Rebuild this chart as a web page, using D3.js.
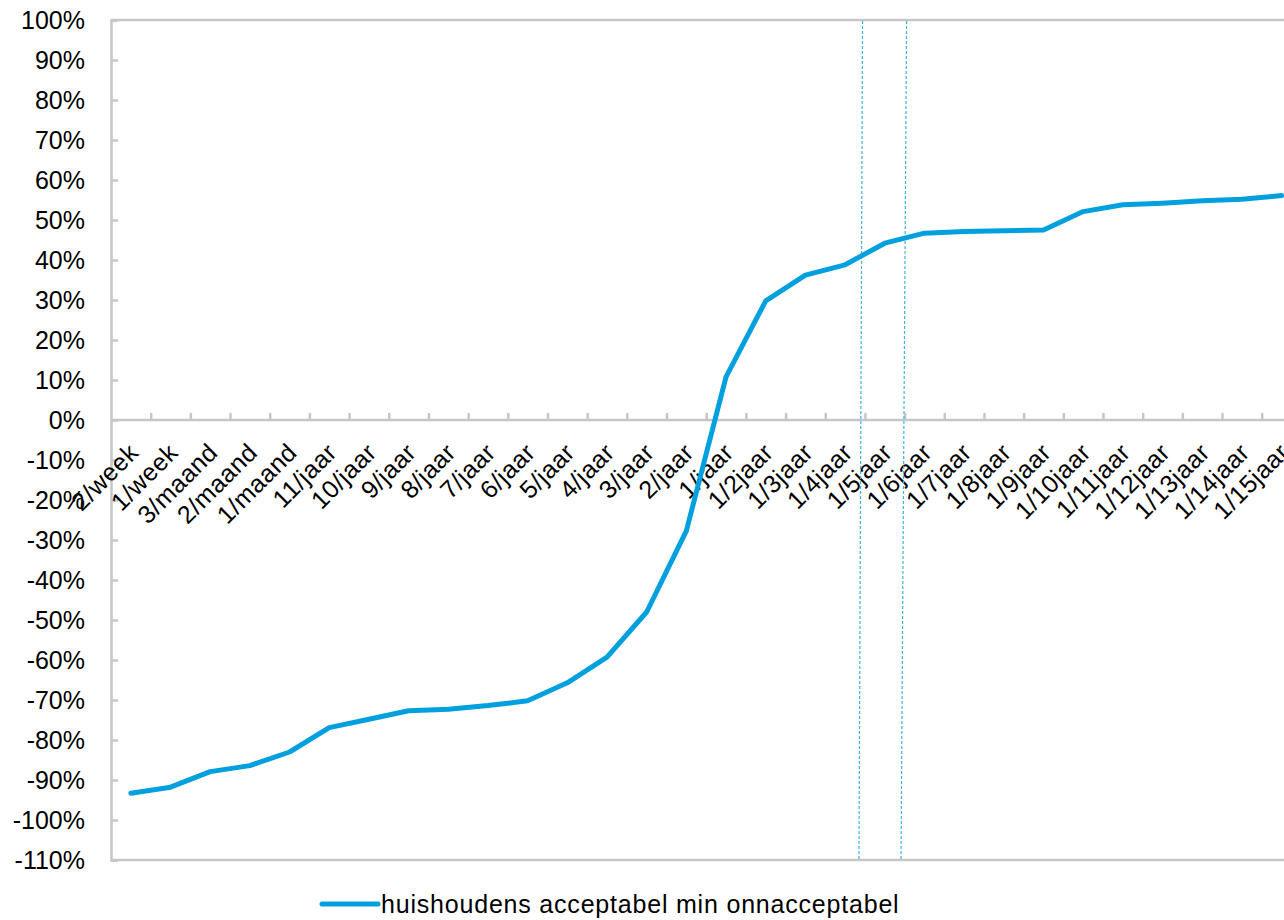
<!DOCTYPE html>
<html>
<head>
<meta charset="utf-8">
<script src="https://cdn.jsdelivr.net/npm/d3@7"></script>
<style>
  body { margin: 0; background: #fff; }
  svg { display: block; }
  text { font-family: "Liberation Sans", Arial, sans-serif; fill: #000; }
</style>
</head>
<body>
<svg id="chart" width="1284" height="920"></svg>
<script>
// Frequency categories along the horizontal axis
const categories = [
  "2/week", "1/week", "3/maand", "2/maand", "1/maand",
  "11/jaar", "10/jaar", "9/jaar", "8/jaar", "7/jaar", "6/jaar",
  "5/jaar", "4/jaar", "3/jaar", "2/jaar", "1/jaar",
  "1/2jaar", "1/3jaar", "1/4jaar", "1/5jaar", "1/6jaar", "1/7jaar",
  "1/8jaar", "1/9jaar", "1/10jaar", "1/11jaar", "1/12jaar",
  "1/13jaar", "1/14jaar", "1/15jaar"
];

// Share of households: acceptable minus unacceptable (%)
const values = [
  -93.3, -91.8, -87.9, -86.4, -83.0,
  -76.9, -74.8, -72.7, -72.3, -71.4, -70.2,
  -65.7, -59.3, -48.0, -27.7, 10.8,
  29.8, 36.2, 38.8, 44.2, 46.7, 47.1,
  47.3, 47.5, 52.1, 53.8, 54.2,
  54.8, 55.2, 56.1
];

const seriesName = "huishoudens acceptabel min onnacceptabel";

// Vertical tick values (%)
const yTicks = d3.range(-110, 101, 10);

// Dashed reference markers, as positions on the category axis (top and bottom end)
const markerTop = [18.94, 20.05];
const markerBottom = [18.85, 19.91];

const svg = d3.select("#chart");
const plotLeft = 111, plotRight = 1301.4, plotTop = 20, plotBottom = 860;
const axisGrey = "#c6c6c6";
const lineBlue = "#00a0df";
const fontSize = 25;

const x = d3.scaleBand().domain(categories).range([plotLeft, plotRight]).padding(0);
const pos = d3.scaleLinear().domain([0, categories.length]).range([plotLeft, plotRight]);
const y = d3.scaleLinear().domain([-110, 100]).range([plotBottom, plotTop]);
const cx = c => x(c) + x.bandwidth() / 2;

// top and bottom frame lines
svg.append("g").selectAll("line")
  .data([100, -110])
  .join("line")
  .attr("x1", plotLeft).attr("x2", plotRight)
  .attr("y1", d => y(d)).attr("y2", d => y(d))
  .attr("stroke", axisGrey).attr("stroke-width", 2.5);

// vertical axis with inward ticks
const yAxis = svg.append("g")
  .attr("transform", `translate(${plotLeft},0)`)
  .call(d3.axisLeft(y).tickValues(yTicks).tickSize(-7).tickPadding(26)
    .tickFormat(d => d + "%"));
yAxis.select(".domain").attr("stroke", axisGrey).attr("stroke-width", 2.5);
yAxis.selectAll(".tick line").attr("stroke", axisGrey).attr("stroke-width", 2.5);
yAxis.selectAll(".tick text")
  .attr("font-size", fontSize)
  .attr("font-family", "Liberation Sans, Arial, sans-serif")
  .attr("fill", "#000");

// horizontal axis at 0 with upward ticks at category boundaries
const xAxis = svg.append("g")
  .attr("transform", `translate(0,${y(0)})`)
  .call(d3.axisTop(pos).tickValues(d3.range(1, categories.length)).tickSize(7)
    .tickFormat(""));
xAxis.select(".domain").attr("stroke", axisGrey).attr("stroke-width", 2.5)
  .attr("d", `M${plotLeft},0H${plotRight}`);
xAxis.selectAll(".tick line").attr("stroke", axisGrey).attr("stroke-width", 2.5);

// rotated category labels
svg.append("g").selectAll("text")
  .data(categories)
  .join("text")
  .attr("transform", d => `translate(${cx(d) + 9},${y(0) + 34}) rotate(-45)`)
  .attr("text-anchor", "end")
  .attr("font-size", fontSize)
  .attr("letter-spacing", 0.5)
  .text(d => d);

// dashed reference markers
svg.append("g").selectAll("line")
  .data(markerTop.map((t, i) => [t, markerBottom[i]]))
  .join("line")
  .attr("x1", d => pos(d[0])).attr("y1", y(100) + 1)
  .attr("x2", d => pos(d[1])).attr("y2", y(-110) - 1)
  .attr("stroke", "#3ab4e6").attr("stroke-width", 1.2)
  .attr("stroke-dasharray", "3,2");

// the series line
const line = d3.line()
  .x((d, i) => cx(categories[i]))
  .y(d => y(d));
svg.append("path")
  .datum(values)
  .attr("d", line)
  .attr("fill", "none")
  .attr("stroke", lineBlue)
  .attr("stroke-width", 5)
  .attr("stroke-linejoin", "round")
  .attr("stroke-linecap", "round");

// legend
const lg = svg.append("g").attr("transform", "translate(322,904)");
lg.append("line").attr("x1", 0).attr("x2", 56).attr("y1", 0).attr("y2", 0)
  .attr("stroke", lineBlue).attr("stroke-width", 5).attr("stroke-linecap", "round");
lg.append("text").attr("x", 59).attr("y", 0).attr("dy", "0.36em")
  .attr("font-size", fontSize).attr("letter-spacing", 0.8).text(seriesName);
</script>
</body>
</html>
